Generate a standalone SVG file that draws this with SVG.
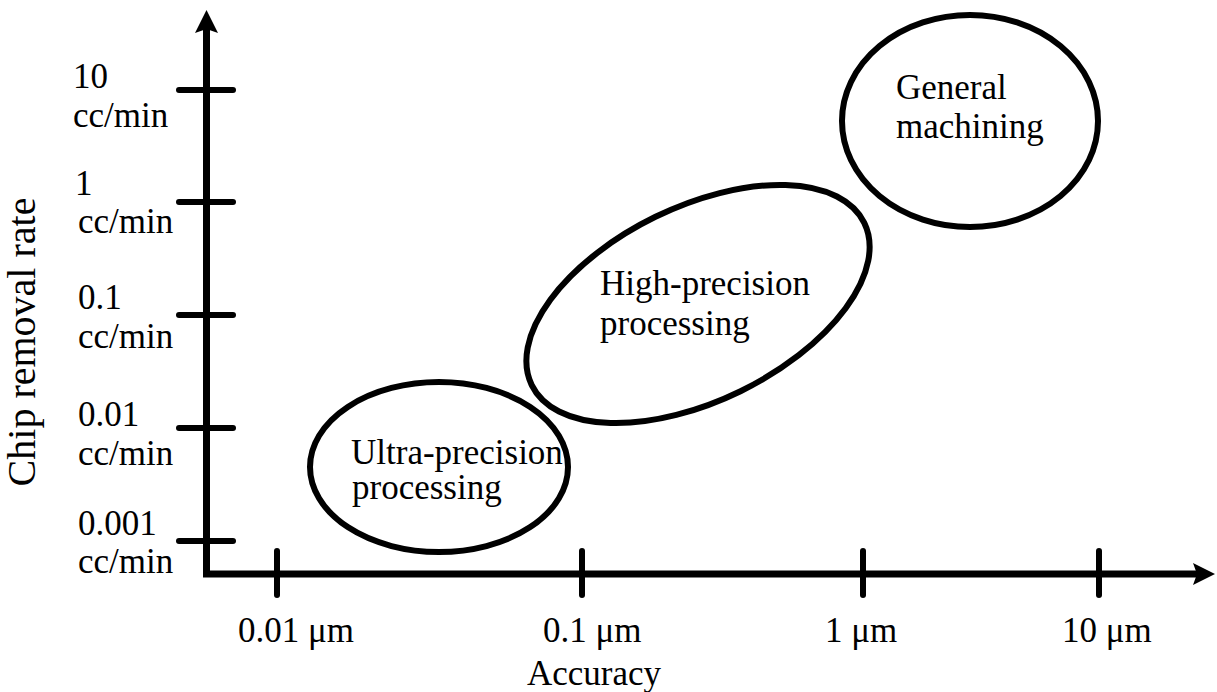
<svg xmlns="http://www.w3.org/2000/svg" width="1217" height="692" viewBox="0 0 1217 692">
  <style>
    .lbl { font-family: "Liberation Serif", "Times New Roman", serif; font-size: 35px; fill: #000; }
    .title { font-family: "Liberation Serif", "Times New Roman", serif; font-size: 40px; fill: #000; }
    .axis { fill: none; stroke: #000; stroke-width: 7; stroke-linejoin: miter; }
    .tick { stroke: #000; stroke-width: 6; stroke-linecap: round; }
    .region { fill: none; stroke: #000; stroke-width: 6; }
    .head { fill: #000; stroke: none; }
  </style>

  <rect width="1217" height="692" fill="#fff"/>

  <!-- axes -->
  <g id="connectors">
    <polyline class="axis" points="206.5,26 206.5,574 1198,574"/>
    <path class="head" d="M206.5,10 L218,33 L206.5,29 L195,33 Z"/>
    <path class="head" d="M1215,574 L1193,585 L1197,574 L1193,563 Z"/>
  </g>

  <!-- y ticks -->
  <g id="y-ticks">
    <line class="tick" x1="179" y1="90" x2="233" y2="90"/>
    <line class="tick" x1="179" y1="202" x2="233" y2="202"/>
    <line class="tick" x1="179" y1="315" x2="233" y2="315"/>
    <line class="tick" x1="179" y1="428" x2="233" y2="428"/>
    <line class="tick" x1="179" y1="541" x2="233" y2="541"/>
  </g>

  <!-- x ticks -->
  <g id="x-ticks">
    <line class="tick" x1="277" y1="551" x2="277" y2="595"/>
    <line class="tick" x1="582" y1="551" x2="582" y2="595"/>
    <line class="tick" x1="863" y1="551" x2="863" y2="595"/>
    <line class="tick" x1="1099" y1="551" x2="1099" y2="595"/>
  </g>

  <!-- y tick labels -->
  <g id="y-labels">
    <text class="lbl" x="73" y="88">10</text>
    <text class="lbl" x="73" y="127">cc/min</text>
    <text class="lbl" x="75" y="195">1</text>
    <text class="lbl" x="78" y="233">cc/min</text>
    <text class="lbl" x="78" y="309">0.1</text>
    <text class="lbl" x="78" y="348">cc/min</text>
    <text class="lbl" x="78" y="426">0.01</text>
    <text class="lbl" x="78" y="465">cc/min</text>
    <text class="lbl" x="78" y="535">0.001</text>
    <text class="lbl" x="78" y="573">cc/min</text>
  </g>

  <!-- x tick labels -->
  <g id="x-labels">
    <text class="lbl" x="238" y="642">0.01 μm</text>
    <text class="lbl" x="543" y="642">0.1 μm</text>
    <text class="lbl" x="825" y="642">1 μm</text>
    <text class="lbl" x="1062" y="642">10 μm</text>
  </g>

  <!-- axis titles -->
  <g id="axis-titles">
    <text class="lbl" x="527" y="685">Accuracy</text>
    <text class="title" transform="translate(35,342) rotate(-90)" text-anchor="middle">Chip removal rate</text>
  </g>

  <!-- machining regions -->
  <g id="ultra-precision">
    <ellipse class="region" cx="439" cy="467" rx="129" ry="85"/>
    <text class="lbl" x="351" y="464">Ultra-precision</text>
    <text class="lbl" x="352" y="499">processing</text>
  </g>

  <g id="high-precision">
    <ellipse class="region" cx="698" cy="304" rx="185" ry="97" transform="rotate(-26 698 304)"/>
    <text class="lbl" x="600" y="295">High-precision</text>
    <text class="lbl" x="600" y="335">processing</text>
  </g>

  <g id="general-machining">
    <ellipse class="region" cx="970" cy="121" rx="128" ry="106"/>
    <text class="lbl" x="896" y="99">General</text>
    <text class="lbl" x="896" y="138">machining</text>
  </g>
</svg>
